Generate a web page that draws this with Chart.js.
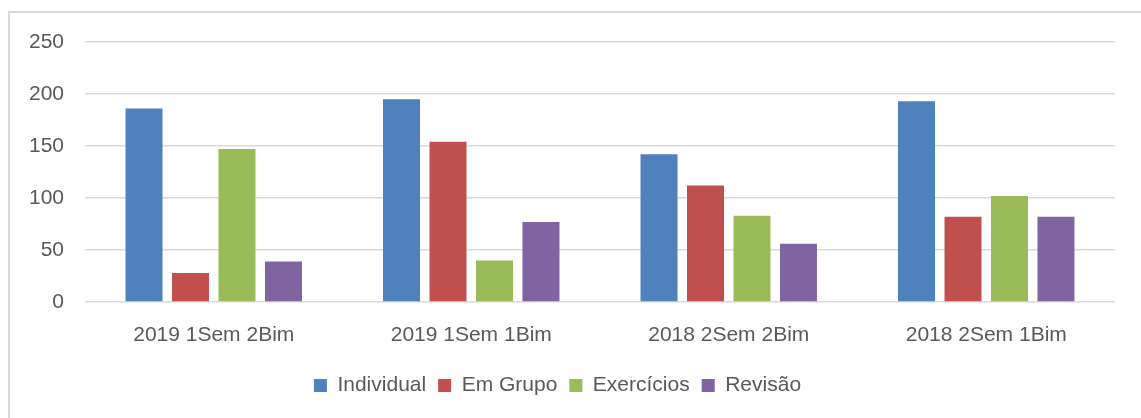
<!DOCTYPE html>
<html lang="pt">

<head>
    <meta charset="UTF-8">
    <title>Atividades por bimestre</title>
    <style>
        body { margin: 0; background: #fff; }
        .frame { position: absolute; left: 8px; top: 11px; width: 1200px; height: 500px;
                 border-left: 2px solid #d9d9d9; border-top: 2px solid #d9d9d9; }
        .wrap { position: absolute; left: 0; top: 0; width: 1141px; height: 418px; }
    </style>
</head>

<body>
    <div class="frame"></div>
    <div class="wrap"><canvas id="myChart"></canvas></div>
    <script src="https://cdn.jsdelivr.net/npm/chart.js"></script>
    <script>
        const categories = ['2019 1Sem 2Bim', '2019 1Sem 1Bim', '2018 2Sem 2Bim', '2018 2Sem 1Bim'];
        const individual = [186, 195, 142, 193];
        const emGrupo = [28, 154, 112, 82];
        const exercicios = [147, 40, 83, 102];
        const revisao = [39, 77, 56, 82];
        const yTicks = [0, 50, 100, 150, 200, 250];

        const txt = '#595959';
        const font = { family: "'Liberation Sans', Arial, sans-serif", size: 21 };

        const ctx = document.getElementById('myChart').getContext('2d');
        new Chart(ctx, {
            type: 'bar',
            data: {
                labels: categories,
                datasets: [
                    { label: 'Individual', data: individual, backgroundColor: '#4f81bd' },
                    { label: 'Em Grupo', data: emGrupo, backgroundColor: '#c0504d' },
                    { label: 'Exercícios', data: exercicios, backgroundColor: '#9bbb59' },
                    { label: 'Revisão', data: revisao, backgroundColor: '#8064a2' }
                ]
            },
            options: {
                responsive: true,
                maintainAspectRatio: false,
                animation: false,
                categoryPercentage: 0.722,
                barPercentage: 0.796,
                layout: { padding: { left: 0, right: 26, top: 42, bottom: 12 } },
                plugins: {
                    tooltip: { enabled: false },
                    legend: {
                        position: 'bottom',
                        labels: {
                            color: txt, font: font,
                            boxWidth: 13, boxHeight: 13, padding: 12
                        }
                    }
                },
                scales: {
                    x: {
                        grid: { display: false },
                        border: { display: false },
                        ticks: { color: txt, font: font, padding: 13, maxRotation: 0 },
                        afterFit: s => { s.height = 61; }
                    },
                    y: {
                        min: 0,
                        max: 250,
                        afterBuildTicks: s => { s.ticks = yTicks.map(v => ({ value: v })); },
                        grid: { color: '#d9d9d9', lineWidth: 1.5, drawTicks: false },
                        border: { display: false },
                        ticks: { color: txt, font: font, padding: 21 },
                        afterFit: s => { s.width = 85; }
                    }
                }
            }
        });
    </script>
</body>

</html>
